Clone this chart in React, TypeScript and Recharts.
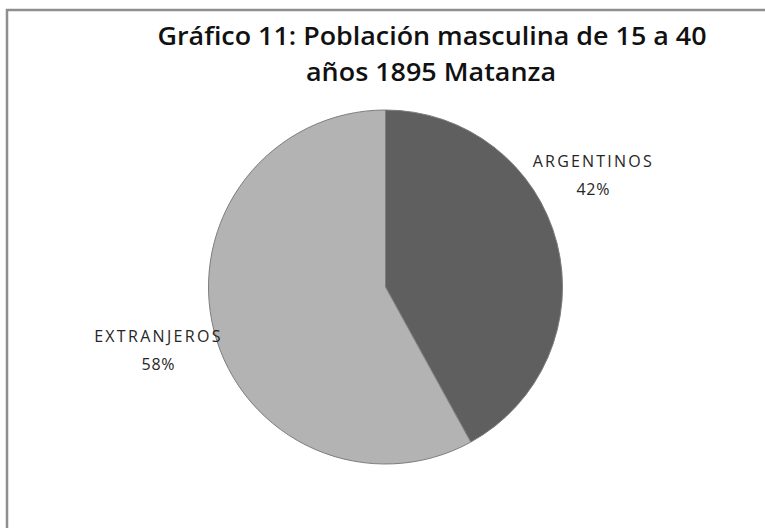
import React from "react";
import { PieChart, Pie, Cell } from "recharts";

const categories = ["ARGENTINOS", "EXTRANJEROS"];
const values = [42, 58];
const colors = ["#5f5f5f", "#b3b3b3"];
const titleLines = ["Gráfico 11: Población masculina de 15 a 40", "años 1895 Matanza"];

const data = categories.map((name, i) => ({ name, value: values[i] }));

const RAD = Math.PI / 180;
// label placement (angle shift in degrees, distance factor relative to outer radius)
const labelShift = [14.0, 0.9];
const labelDist = [1.335, 1.33];

const renderLabel = (props: any) => {
  const { cx, cy, midAngle, outerRadius, percent, name, index } = props;
  const ang = (midAngle + labelShift[index]) * RAD;
  const r = outerRadius * labelDist[index];
  const x = cx + r * Math.cos(ang);
  const y = cy - r * Math.sin(ang);
  return (
    <text
      x={x}
      y={y}
      textAnchor="middle"
      fill="#262626"
      fontFamily="'Open Sans', sans-serif"
      fontSize={16}
    >
      <tspan x={x} dy={-7.5} letterSpacing={index === 0 ? 2.2 : 2.3}>{name}</tspan>
      <tspan x={x} dy={28} letterSpacing={0.8}>{`${Math.round(percent * 100)}%`}</tspan>
    </text>
  );
};

export default function App() {
  return (
    <div
      style={{
        position: "absolute",
        left: 0,
        top: 0,
        width: 765,
        height: 528,
        background: "#ffffff",
        overflow: "hidden",
      }}
    >
      <svg
        width={765}
        height={528}
        style={{ position: "absolute", left: 0, top: 0 }}
      >
        <rect x={7} y={10} width={900} height={700} fill="#ffffff" stroke="#8f8f8f" strokeWidth={2.5} />
        <text
          x={432}
          y={45}
          textAnchor="middle"
          fontFamily="'Open Sans', sans-serif"
          fontWeight={600}
          fontSize={25}
          fill="#111"
          textLength={549}
          lengthAdjust="spacingAndGlyphs"
        >
          {titleLines[0]}
        </text>
        <text
          x={431}
          y={81}
          textAnchor="middle"
          fontFamily="'Open Sans', sans-serif"
          fontWeight={600}
          fontSize={25}
          fill="#111"
          textLength={250}
          lengthAdjust="spacingAndGlyphs"
        >
          {titleLines[1]}
        </text>
      </svg>
      <div style={{ position: "absolute", left: 0, top: 0 }}>
        <PieChart width={765} height={528} margin={{ top: 0, right: 0, bottom: 0, left: 0 }}>
          <Pie
            data={data}
            dataKey="value"
            nameKey="name"
            cx={385.5}
            cy={287}
            outerRadius={177}
            startAngle={90}
            endAngle={-270}
            stroke="#7d7d7d"
            strokeWidth={1}
            label={renderLabel}
            labelLine={false}
            isAnimationActive={false}
          >
            {data.map((d, i) => (
              <Cell key={d.name} fill={colors[i]} />
            ))}
          </Pie>
        </PieChart>
      </div>
    </div>
  );
}
